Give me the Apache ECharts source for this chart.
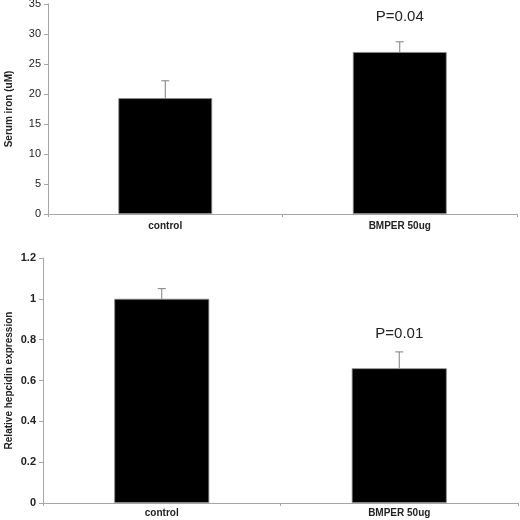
<!DOCTYPE html>
<html>
<head>
<meta charset="utf-8">
<script src="https://cdn.jsdelivr.net/npm/echarts@6/dist/echarts.min.js"></script>
<style>html,body{margin:0;padding:0;background:#fff}#c{width:520px;height:520px}</style>
</head>
<body>
<div id="c"></div>
<script>
var categories = ['control', 'BMPER 50ug'];
var ironValues = [19.3, 27.0];
var ironErrUpper = [22.2, 28.7];
var ironPLabels = ['', 'P=0.04'];
var hepcidinValues = [1.0, 0.66];
var hepcidinErrUpper = [1.05, 0.74];
var hepcidinPLabels = ['', 'P=0.01'];
var ironTicks = {min: 0, max: 35, interval: 5};
var hepcidinTicks = {min: 0, max: 1.2, interval: 0.2};

var FONT = 'Liberation Sans';
var axisGrey = '#a6a6a6';

function errData(upper, vals) {
  return upper.map(function (u, i) { return [i, vals[i], u]; });
}
function errRender(params, api) {
  var i = api.value(0);
  var base = api.coord([i, api.value(1)]);
  var top = api.coord([i, api.value(2)]);
  var cap = 4;
  return {type: 'group', children: [
    {type: 'line', shape: {x1: base[0], y1: base[1], x2: top[0], y2: top[1]}, style: {stroke: '#7f7f7f', lineWidth: 1}},
    {type: 'line', shape: {x1: top[0] - cap, y1: top[1], x2: top[0] + cap, y2: top[1]}, style: {stroke: '#7f7f7f', lineWidth: 1}}
  ]};
}
function labelRender(offset, labels) {
  return function (params, api) {
    var i = api.value(0);
    var top = api.coord([i, api.value(1)]);
    var t = labels[params.dataIndex];
    if (!t) return null;
    return {type: 'text', x: top[0], y: top[1] - offset, style: {text: t, font: '15px "' + FONT + '"', fill: '#222', align: 'center', verticalAlign: 'middle'}};
  };
}

var chart = echarts.init(document.getElementById('c'));
var yAxisCommon = function (t, bold, name) {
  return {
    type: 'value', min: t.min, max: t.max, interval: t.interval,
    name: name, nameLocation: 'middle', nameGap: bold ? 29 : 34, nameRotate: 90,
    nameMoveOverlap: false,
    nameTextStyle: {fontFamily: FONT, fontWeight: 'bold', fontSize: 10, color: '#222'},
    axisLine: {show: true, lineStyle: {color: axisGrey}},
    axisTick: {show: true, length: 4, lineStyle: {color: axisGrey}},
    splitLine: {show: false},
    axisLabel: {fontFamily: FONT, fontSize: 11, fontWeight: bold ? 'bold' : 'normal', color: '#222', margin: 7}
  };
};
var xAxisCommon = function (gi, margin) {
  return {
    type: 'category', data: categories, gridIndex: gi,
    axisLine: {lineStyle: {color: axisGrey}},
    axisTick: {show: true, length: 3, alignWithLabel: false, lineStyle: {color: axisGrey}},
    axisLabel: {fontFamily: FONT, fontSize: 10, fontWeight: 'bold', color: '#222', margin: margin}
  };
};
var y0 = yAxisCommon(ironTicks, false, 'Serum iron (uM)'); y0.gridIndex = 0;
var y1 = yAxisCommon(hepcidinTicks, true, 'Relative hepcidin expression'); y1.gridIndex = 1;
y1.axisLabel.formatter = function (v) { return String(Math.round(v * 10) / 10); };

chart.setOption({
  animation: false,
  grid: [
    {left: 48, right: 3, top: 4, height: 210, outerBoundsMode: 'none', containLabel: false},
    {left: 43, right: 2, top: 258, height: 245, outerBoundsMode: 'none', containLabel: false}
  ],
  xAxis: [xAxisCommon(0, 7), xAxisCommon(1, 5)],
  yAxis: [y0, y1],
  series: [
    {type: 'bar', xAxisIndex: 0, yAxisIndex: 0, data: ironValues, barWidth: '40%',
     itemStyle: {color: '#000', borderColor: '#8c8c8c', borderWidth: 0.8}},
    {type: 'custom', xAxisIndex: 0, yAxisIndex: 0, data: errData(ironErrUpper, ironValues), renderItem: errRender, z: 3},
    {type: 'custom', xAxisIndex: 0, yAxisIndex: 0, data: ironErrUpper.map(function (u, i) { return [i, u]; }), renderItem: labelRender(25, ironPLabels), z: 3},
    {type: 'bar', xAxisIndex: 1, yAxisIndex: 1, data: hepcidinValues, barWidth: '40%',
     itemStyle: {color: '#000', borderColor: '#8c8c8c', borderWidth: 0.8}},
    {type: 'custom', xAxisIndex: 1, yAxisIndex: 1, data: errData(hepcidinErrUpper, hepcidinValues), renderItem: errRender, z: 3},
    {type: 'custom', xAxisIndex: 1, yAxisIndex: 1, data: hepcidinErrUpper.map(function (u, i) { return [i, u]; }), renderItem: labelRender(18, hepcidinPLabels), z: 3}
  ]
});
</script>
</body>
</html>
